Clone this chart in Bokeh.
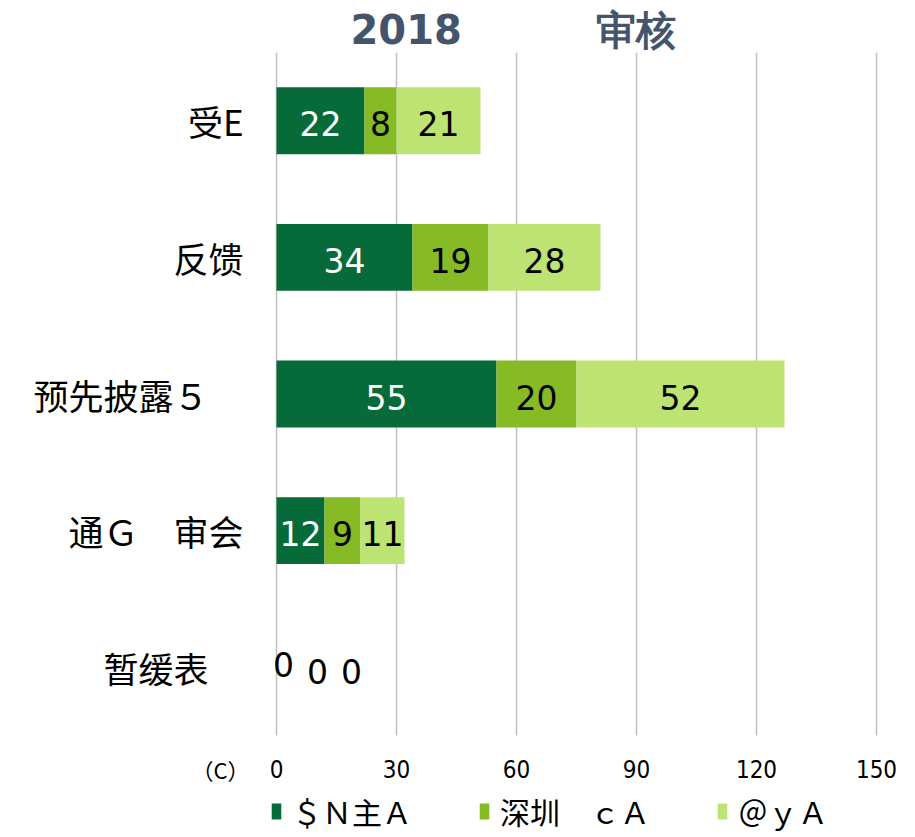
from bokeh.plotting import figure
from bokeh.models import ColumnDataSource, Range1d, Legend, LegendItem
from bokeh.core.properties import value
from bokeh.embed import file_html
from bokeh.resources import INLINE

categories = ["受E", "反馈", "预先披露５　", "通Ｇ　审会", "暂缓表　"]
series_names = ["＄Ｎ主Ａ", "深圳　ｃＡ", "＠ｙＡ"]
s1 = [22, 34, 55, 12, 0]
s2 = [8, 19, 20, 9, 0]
s3 = [21, 28, 52, 11, 0]
colors = ["#076B39", "#86BB26", "#BDE473"]
label_colors = ["white", "black", "black"]
x_ticks = [0, 30, 60, 90, 120, 150]
unit_label = "（C）"
unit_pos = -14
title_text = "2018　　　 审核"

n = len(categories)
ypos = [n - 1 - i for i in range(n)]
y_lo, y_hi = -0.5, n - 0.5
px_per_unit = 683 / n
extra = 100 / px_per_unit

p = figure(frame_width=908, frame_height=783, output_backend="svg", toolbar_location=None,
           x_range=Range1d(-69, 158), y_range=Range1d(y_lo - extra, y_hi),
           min_border_left=0, min_border_right=4, min_border_top=52, min_border_bottom=0)
p.outline_line_color = None
p.background_fill_color = "white"
p.border_fill_color = "white"
p.xaxis.visible = False
p.yaxis.visible = False
p.xgrid.grid_line_color = None
p.ygrid.grid_line_color = None

# vertical grid lines at the x ticks, spanning the category band
p.segment(x0=x_ticks, y0=[y_lo] * len(x_ticks), x1=x_ticks, y1=[y_hi] * len(x_ticks),
          line_color="#C0C0C0", line_width=1.5)

series = [s1, s2, s3]
left = [0] * n
items = []
for k, s in enumerate(series):
    right = [l + v for l, v in zip(left, s)]
    mid = [(l + r) / 2 for l, r in zip(left, right)]
    src = ColumnDataSource(dict(y=ypos, left=left, right=right))
    r = p.hbar(y="y", left="left", right="right", height=0.49, source=src,
               fill_color=colors[k], line_color=None)
    items.append(LegendItem(label=series_names[k], renderers=[r]))
    nz = [i for i in range(n) if s[i] != 0]
    zr = [i for i in range(n) if s[i] == 0]
    src_nz = ColumnDataSource(dict(x=[mid[i] for i in nz], y=[ypos[i] for i in nz],
                                   t=[str(s[i]) for i in nz]))
    p.text(x="x", y="y", text="t", source=src_nz, text_align="center",
           text_baseline="middle", text_color=label_colors[k],
           text_font=value("DejaVu Sans"), text_font_size="33px", y_offset=3)
    src_z = ColumnDataSource(dict(x=[mid[i] for i in zr], y=[ypos[i] for i in zr],
                                  t=[str(s[i]) for i in zr]))
    p.text(x="x", y="y", text="t", source=src_z, text_align="center",
           text_baseline="middle", text_color="black",
           text_font=value("DejaVu Sans"), text_font_size="33px",
           x_offset=7 + 34 * k, y_offset=(-3 if k == 0 else 4))
    left = right

# category labels
cat_src = ColumnDataSource(dict(x=[0] * n, y=ypos, t=categories))
p.text(x="x", y="y", text="t", source=cat_src, text_align="right",
       text_baseline="middle", text_color="black",
       text_font=value("Noto Sans CJK SC"), text_font_size="35px", x_offset=-33)

# x tick labels
tick_src = ColumnDataSource(dict(x=x_ticks, y=[y_lo] * len(x_ticks), t=[str(v) for v in x_ticks]))
p.text(x="x", y="y", text="t", source=tick_src, text_align="center",
       text_baseline="middle", text_color="black",
       text_font=value("DejaVu Sans Condensed"), text_font_size="24px", y_offset=33)
unit_src = ColumnDataSource(dict(x=[unit_pos], y=[y_lo], t=[unit_label]))
p.text(x="x", y="y", text="t", source=unit_src, text_align="center",
       text_baseline="middle", text_color="black",
       text_font=value("Noto Sans CJK SC"), text_font_size="22px", y_offset=33)

p.title.text = title_text
p.title.text_font = "DejaVu Sans"
p.title.text_font_size = "40px"
p.title.text_font_style = "bold"
p.title.text_color = "#44546A"
p.title.align = "left"
p.title.offset = 350
p.title.standoff = 0

legend = Legend(items=items, orientation="horizontal", location=(270, 2),
                label_text_font="Noto Sans CJK SC", label_text_font_size="30px",
                label_text_color="black", glyph_width=12, glyph_height=20,
                label_height=30, spacing=66, label_standoff=10, border_line_color=None,
                background_fill_alpha=0, padding=0, margin=0)
p.add_layout(legend, "center")

open("out.html", "w").write(file_html(p, INLINE))
